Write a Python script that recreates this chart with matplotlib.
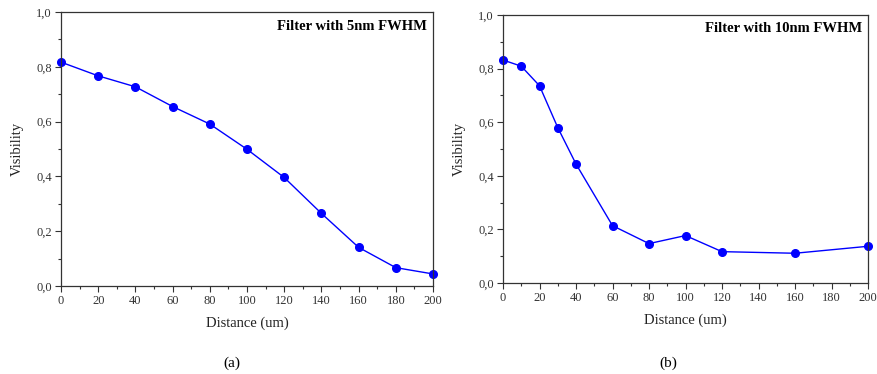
import matplotlib
matplotlib.use('Agg')
import matplotlib.pyplot as plt
from matplotlib.ticker import MultipleLocator, FuncFormatter

plt.rcParams['font.family'] = ['Liberation Serif', 'DejaVu Serif']

# panel (a): 5nm FWHM filter
dist_a = [0, 20, 40, 60, 80, 100, 120, 140, 160, 180, 200]
vis_a = [0.817, 0.767, 0.727, 0.655, 0.591, 0.499, 0.396, 0.265, 0.141, 0.067, 0.044]

# panel (b): 10nm FWHM filter
dist_b = [0, 10, 20, 30, 40, 60, 80, 100, 120, 160, 200]
vis_b = [0.832, 0.809, 0.736, 0.580, 0.444, 0.214, 0.147, 0.177, 0.117, 0.111, 0.137]

titles = ['Filter with 5nm FWHM', 'Filter with 10nm FWHM']
panels = ['(a)', '(b)']

fig = plt.figure(figsize=(8.77, 3.74), dpi=100)
W, H = 877, 374
# axes boxes in pixels: left, top, right, bottom
boxes = [(61, 12, 433, 286), (503, 15, 868, 283)]
text_y = [26, 29]
label_x = [232, 668]

comma = FuncFormatter(lambda v, p: ('%.1f' % v).replace('.', ','))

for i, (x, y) in enumerate([(dist_a, vis_a), (dist_b, vis_b)]):
    l, t, r, b = boxes[i]
    ax = fig.add_axes([l / W, 1 - b / H, (r - l) / W, (b - t) / H])
    ax.plot(x, y, color='#0000ff', lw=1, marker='o', ms=5.5, clip_on=False)
    ax.set_xlim(0, 200)
    ax.set_ylim(0, 1.0)
    ax.xaxis.set_major_locator(MultipleLocator(20))
    ax.xaxis.set_minor_locator(MultipleLocator(10))
    ax.yaxis.set_major_locator(MultipleLocator(0.2))
    ax.yaxis.set_minor_locator(MultipleLocator(0.1))
    ax.yaxis.set_major_formatter(comma)
    ax.tick_params(which='major', direction='out', length=4, width=0.8,
                   labelsize=9, colors='#333333', labelcolor='#333333', pad=2.5)
    ax.tick_params(which='minor', direction='out', length=2, width=0.8, colors='#333333')
    ax.tick_params(top=False, right=False, which='both')
    for s in ax.spines.values():
        s.set_linewidth(0.9)
        s.set_color('#333333')
    ax.set_xlabel('Distance (um)', fontsize=10.5, labelpad=7, color='#222222')
    ax.set_ylabel('Visibility', fontsize=10.5, labelpad=9, color='#222222')
    fig.text((r - 6) / W, 1 - text_y[i] / H, titles[i], ha='right', va='center',
             fontsize=10.5, fontweight='bold')
    fig.text(label_x[i] / W, 1 - 363 / H, panels[i], ha='center', va='center', fontsize=11)

fig.savefig('out.png', dpi=100)
